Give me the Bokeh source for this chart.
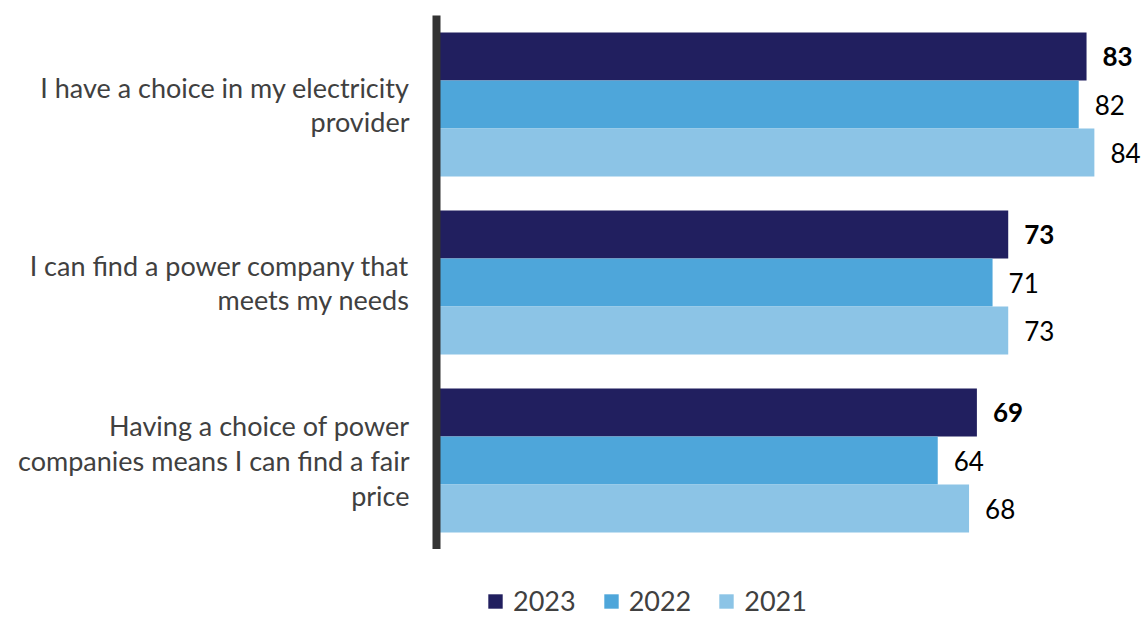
import textwrap
from bokeh.plotting import figure
from bokeh.layouts import column
from bokeh.models import (Range1d, FixedTicker, LabelSet, ColumnDataSource,
                          Legend, LegendItem)
from bokeh.core.properties import value
from bokeh.embed import file_html
from bokeh.resources import INLINE

categories = [
    "I have a choice in my electricity provider",
    "I can find a power company that meets my needs",
    "Having a choice of power companies means I can find a fair price",
]
years = ["2023", "2022", "2021"]
values_2023 = [83, 73, 69]
values_2022 = [82, 71, 64]
values_2021 = [84, 73, 68]
series = [values_2023, values_2022, values_2021]
colors = ["#211F5F", "#4EA6DA", "#8CC4E6"]

FONT = "Lato"
bar_h = 0.27

p = figure(width=1144, height=549, output_backend="svg", toolbar_location=None,
           x_range=Range1d(0, 90.4), y_range=Range1d(2.5, -0.5),
           min_border_left=436, min_border_right=0, min_border_top=15,
           min_border_bottom=0)
p.outline_line_color = None
p.xgrid.visible = False
p.ygrid.visible = False
p.xaxis.visible = False

ax = p.yaxis[0]
ax.ticker = FixedTicker(ticks=list(range(len(categories))))
ax.major_label_overrides = {i: "\n".join(textwrap.wrap(c, 33)) for i, c in enumerate(categories)}
ax.axis_line_width = 8
ax.axis_line_color = "#333333"
ax.major_tick_line_color = None
ax.minor_tick_line_color = None
ax.major_label_text_font = FONT
ax.major_label_text_font_size = "27px"
ax.major_label_text_color = "#404040"
ax.major_label_text_line_height = 1.05
ax.major_label_standoff = 21

# legend figure below the chart (its ranges keep its copies of the bars out of view)
p2 = figure(width=1144, height=68, output_backend="svg", toolbar_location=None,
            min_border=0, x_range=Range1d(-2, -1), y_range=Range1d(-2, -1))
p2.outline_line_color = None
p2.grid.visible = False
p2.axis.visible = False

items = []
for j, (yr, vals, col) in enumerate(zip(years, series, colors)):
    ys = [i + (j - 1) * bar_h for i in range(len(categories))]
    src = ColumnDataSource(dict(y=ys, v=vals, t=[str(v) for v in vals]))
    p.hbar(y="y", right="v", left=0, height=bar_h, source=src,
           fill_color=col, line_color=None)
    lbl = LabelSet(x="v", y="y", text="t", source=src, x_offset=16,
                   text_baseline="middle", text_align="left",
                   text_font=value(FONT), text_font_size="26px",
                   text_color="#000000",
                   text_font_style="bold" if j == 0 else "normal")
    p.add_layout(lbl)
    twin = p2.hbar(y="y", right="v", left=0, height=bar_h, source=src,
                   fill_color=col, line_color=None)
    items.append(LegendItem(label=yr, renderers=[twin]))

legend = Legend(items=items, orientation="horizontal", location=(50, 0),
                glyph_width=18, glyph_height=18, label_standoff=9, spacing=26,
                padding=0, margin=0, border_line_color=None,
                background_fill_alpha=0,
                label_text_font=FONT, label_text_font_size="27px",
                label_text_color="#404040", label_height=18)
p2.add_layout(legend, "center")

layout = column(p, p2, spacing=0)
open("out.html", "w").write(file_html(layout, INLINE))
